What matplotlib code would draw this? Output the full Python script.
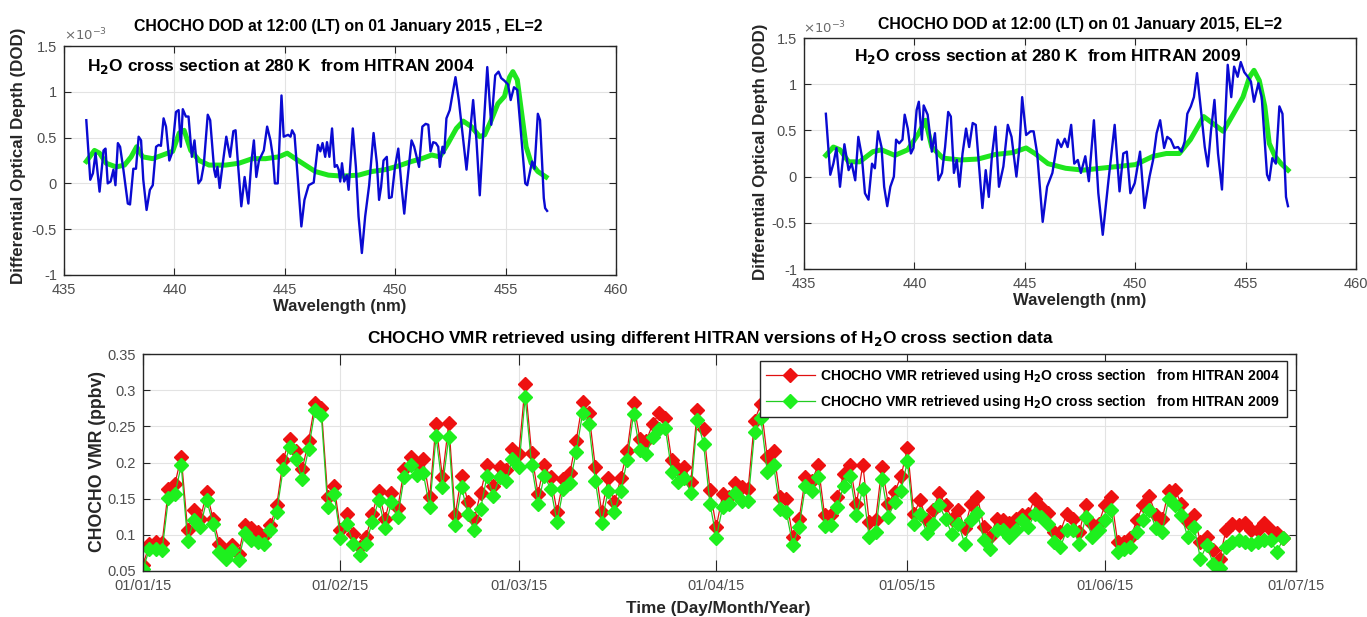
import matplotlib
matplotlib.use("Agg")
import matplotlib.pyplot as plt
import matplotlib.dates as mdates
import matplotlib.ticker as mticker
import numpy as np
import pandas as pd

plt.rcParams['font.family'] = ['Liberation Sans', 'DejaVu Sans']
plt.rcParams['axes.unicode_minus'] = False

# ---------------- Top-left panel (HITRAN 2004), DOD in units of 1e-3 ----------------
wl_blue_2004 = [436.01, 436.19, 436.31, 436.43, 436.61, 436.79, 436.88, 436.98, 437.11, 437.24,
                437.33, 437.44, 437.54, 437.69, 437.89, 437.99, 438.14, 438.26, 438.38, 438.49,
                438.59, 438.74, 438.89, 439.02, 439.17, 439.29, 439.39, 439.51, 439.62, 439.77,
                439.89, 440.07, 440.19, 440.29, 440.38, 440.52, 440.64, 440.79, 440.91, 441.09,
                441.21, 441.33, 441.51, 441.62, 441.80, 441.87, 441.95, 442.05, 442.17, 442.35,
                442.52, 442.67, 442.77, 442.89, 443.03, 443.18, 443.35, 443.48, 443.60, 443.71,
                443.83, 444.05, 444.20, 444.35, 444.46, 444.55, 444.68, 444.85, 444.95, 445.15,
                445.26, 445.33, 445.44, 445.59, 445.75, 445.89, 446.08, 446.31, 446.50, 446.61,
                446.71, 446.83, 446.91, 447.02, 447.14, 447.26, 447.36, 447.44, 447.51, 447.59,
                447.69, 447.81, 447.89, 448.08, 448.22, 448.34, 448.49, 448.64, 448.82, 449.02,
                449.17, 449.27, 449.36, 449.47, 449.62, 449.72, 449.84, 449.99, 450.14, 450.29,
                450.41, 450.52, 450.74, 450.86, 451.08, 451.23, 451.38, 451.50, 451.60, 451.72,
                451.84, 451.95, 452.02, 452.14, 452.22, 452.32, 452.47, 452.58, 452.73, 452.88,
                453.03, 453.23, 453.53, 453.68, 453.83, 453.98, 454.17, 454.35, 454.53, 454.68,
                454.80, 454.95, 455.11, 455.23, 455.38, 455.53, 455.89, 455.98, 456.20, 456.31,
                456.46, 456.56, 456.73, 456.79, 456.88]
dod_blue_2004 = [0.69, 0.04, 0.11, 0.33, -0.09, 0.36, 0.38, 0.00, 0.02, 0.15,
                 -0.02, 0.44, 0.40, 0.15, -0.22, -0.23, 0.16, 0.16, 0.51, 0.47,
                 0.04, -0.29, -0.07, -0.02, 0.40, 0.42, 0.41, 0.71, 0.62, 0.25,
                 0.33, 0.78, 0.80, 0.40, 0.81, 0.73, 0.73, 0.29, 0.47, 0.00,
                 0.04, 0.20, 0.75, 0.69, 0.15, 0.07, 0.18, -0.05, 0.18, 0.51,
                 0.29, 0.57, 0.58, 0.18, -0.25, 0.07, -0.22, 0.22, 0.47, 0.07,
                 0.25, 0.36, 0.62, 0.47, 0.29, 0.00, 0.00, 0.96, 0.51, 0.53,
                 0.51, 0.58, 0.53, 0.04, -0.47, -0.18, -0.02, 0.01, 0.42, 0.35,
                 0.44, 0.29, 0.45, 0.29, 0.60, 0.18, 0.20, 0.15, 0.02, 0.22,
                 0.02, 0.09, -0.07, 0.60, 0.18, -0.36, -0.76, -0.36, -0.02, 0.55,
                 0.22, -0.18, -0.04, 0.25, 0.29, -0.16, -0.15, 0.18, 0.38, -0.04,
                 -0.33, -0.04, 0.47, 0.40, 0.18, 0.62, 0.65, 0.64, 0.35, 0.45,
                 0.44, 0.40, 0.18, 0.40, 0.33, 0.71, 0.80, 0.95, 1.16, 0.91,
                 0.58, 0.15, 0.91, 0.47, -0.13, 0.51, 1.27, 0.64, 1.18, 1.22,
                 1.15, 1.12, 1.08, 0.91, 1.05, 1.02, 0.00, -0.02, 0.24, 0.16,
                 0.76, 0.69, -0.16, -0.27, -0.30]
wl_green_2004 = [436.01, 436.38, 436.61, 436.91, 437.36, 437.74, 438.04, 438.29, 438.56, 439.02,
                 439.47, 439.92, 440.22, 440.44, 440.74, 441.12, 441.57, 442.32, 442.92, 443.53,
                 444.13, 444.73, 445.11, 445.48, 445.93, 446.38, 446.98, 447.59, 448.34, 448.94,
                 449.54, 450.14, 450.74, 451.20, 451.65, 452.02, 452.40, 452.77, 453.08, 453.45,
                 453.83, 454.05, 454.35, 454.65, 454.95, 455.18, 455.33, 455.53, 455.71, 455.93,
                 456.16, 456.46, 456.83]
dod_green_2004 = [0.24, 0.36, 0.33, 0.22, 0.18, 0.20, 0.29, 0.40, 0.29, 0.27,
                  0.31, 0.35, 0.55, 0.58, 0.36, 0.25, 0.20, 0.20, 0.22, 0.27,
                  0.27, 0.29, 0.33, 0.27, 0.20, 0.13, 0.09, 0.08, 0.09, 0.13,
                  0.15, 0.19, 0.24, 0.27, 0.31, 0.29, 0.44, 0.60, 0.68, 0.62,
                  0.51, 0.53, 0.69, 0.87, 0.95, 1.16, 1.22, 1.13, 0.80, 0.40,
                  0.22, 0.13, 0.07]

# ---------------- Top-right panel (HITRAN 2009) ----------------
wl_blue_2009 = [435.99, 436.19, 436.33, 436.47, 436.63, 436.83, 437.02, 437.16, 437.32, 437.46,
                437.62, 437.76, 437.92, 438.08, 438.21, 438.35, 438.51, 438.63, 438.77, 438.91,
                439.07, 439.17, 439.31, 439.46, 439.56, 439.70, 439.84, 439.96, 440.10, 440.20,
                440.34, 440.42, 440.60, 440.79, 440.93, 441.09, 441.25, 441.39, 441.53, 441.65,
                441.79, 441.92, 442.04, 442.18, 442.34, 442.48, 442.64, 442.78, 443.08, 443.23,
                443.37, 443.51, 443.67, 443.83, 444.03, 444.23, 444.40, 444.62, 444.76, 444.88,
                445.06, 445.26, 445.40, 445.56, 445.81, 446.01, 446.25, 446.49, 446.65, 446.81,
                446.94, 447.10, 447.24, 447.40, 447.54, 447.74, 447.90, 448.13, 448.33, 448.53,
                448.79, 449.07, 449.29, 449.46, 449.62, 449.78, 449.98, 450.22, 450.42, 450.65,
                450.81, 450.97, 451.13, 451.31, 451.45, 451.61, 451.77, 451.94, 452.10, 452.24,
                452.36, 452.52, 452.66, 452.80, 453.00, 453.15, 453.29, 453.43, 453.59, 453.75,
                453.93, 454.19, 454.35, 454.48, 454.64, 454.78, 454.94, 455.10, 455.24, 455.38,
                455.58, 455.73, 455.97, 456.07, 456.21, 456.37, 456.53, 456.67, 456.83, 456.92]
dod_blue_2009 = [0.68, 0.02, 0.14, 0.31, -0.11, 0.35, 0.07, 0.14, -0.04, 0.43,
                 0.22, -0.18, -0.25, 0.14, 0.09, 0.49, 0.32, -0.11, -0.32, -0.11,
                 0.00, 0.40, 0.36, 0.40, 0.67, 0.52, 0.25, 0.31, 0.72, 0.81,
                 0.40, 0.77, 0.67, 0.27, 0.47, -0.04, 0.04, 0.32, 0.70, 0.65,
                 0.04, 0.18, -0.11, 0.25, 0.52, 0.32, 0.58, 0.56, -0.34, 0.07,
                 -0.22, 0.22, 0.54, -0.11, 0.11, 0.56, 0.43, 0.00, 0.32, 0.86,
                 0.45, 0.49, 0.49, 0.25, -0.49, -0.11, 0.04, 0.40, 0.32, 0.41,
                 0.32, 0.56, 0.14, 0.18, 0.04, 0.22, -0.05, 0.61, -0.18, -0.63,
                 -0.04, 0.56, -0.16, 0.25, 0.27, -0.18, -0.07, 0.27, -0.34, 0.00,
                 0.18, 0.47, 0.61, 0.31, 0.43, 0.40, 0.31, 0.32, 0.27, 0.38,
                 0.68, 0.76, 0.86, 1.12, 0.67, 0.32, 0.11, 0.49, 0.83, 0.25,
                 -0.14, 1.21, 0.86, 1.19, 1.08, 1.24, 1.13, 1.08, 1.03, 0.81,
                 1.01, 0.86, 0.02, -0.04, 0.20, 0.14, 0.76, 0.68, -0.22, -0.32]
wl_green_2009 = [435.99, 436.33, 436.63, 437.02, 437.52, 438.12, 438.51, 439.11, 439.70, 440.20,
                 440.50, 440.79, 441.29, 442.08, 442.88, 443.67, 444.46, 445.06, 445.46, 446.05,
                 446.85, 447.64, 448.43, 449.23, 450.02, 450.81, 451.41, 452.00, 452.50, 453.10,
                 453.49, 453.99, 454.38, 454.88, 455.18, 455.38, 455.62, 455.87, 456.07, 456.33,
                 456.61, 456.92]
dod_green_2009 = [0.23, 0.32, 0.29, 0.16, 0.16, 0.27, 0.29, 0.23, 0.29, 0.47,
                  0.61, 0.32, 0.20, 0.18, 0.19, 0.24, 0.26, 0.31, 0.25, 0.14,
                  0.09, 0.07, 0.09, 0.11, 0.13, 0.22, 0.25, 0.25, 0.40, 0.65,
                  0.58, 0.49, 0.65, 0.86, 1.08, 1.15, 1.04, 0.76, 0.36, 0.22,
                  0.14, 0.07]

# ---------------- Bottom panel: daily CHOCHO VMR (ppbv) ----------------
start_date = "2015-01-01"
vmr_2004 = [0.058, 0.087, 0.090, 0.089, 0.164, 0.170, 0.208, 0.107, 0.134, 0.122,
            0.159, 0.122, 0.088, 0.076, 0.086, 0.074, 0.113, 0.109, 0.104, 0.099,
            0.113, 0.141, 0.203, 0.233, 0.216, 0.191, 0.230, 0.282, 0.275, 0.152,
            0.168, 0.106, 0.129, 0.101, 0.083, 0.097, 0.129, 0.160, 0.122, 0.158,
            0.137, 0.191, 0.207, 0.198, 0.205, 0.152, 0.253, 0.180, 0.254, 0.127,
            0.182, 0.145, 0.122, 0.158, 0.196, 0.168, 0.194, 0.189, 0.219, 0.212,
            0.308, 0.213, 0.157, 0.197, 0.180, 0.132, 0.177, 0.185, 0.230, 0.283,
            0.269, 0.194, 0.132, 0.178, 0.145, 0.178, 0.216, 0.282, 0.233, 0.230,
            0.253, 0.268, 0.262, 0.203, 0.191, 0.194, 0.173, 0.272, 0.246, 0.162,
            0.111, 0.156, 0.152, 0.171, 0.166, 0.164, 0.258, 0.281, 0.207, 0.216,
            0.152, 0.149, 0.097, 0.122, 0.180, 0.175, 0.196, 0.127, 0.127, 0.152,
            0.184, 0.196, 0.143, 0.197, 0.118, 0.120, 0.194, 0.143, 0.159, 0.181,
            0.220, 0.129, 0.148, 0.120, 0.134, 0.158, 0.141, 0.122, 0.135, 0.109,
            0.143, 0.152, 0.111, 0.097, 0.122, 0.120, 0.116, 0.122, 0.127, 0.129,
            0.150, 0.138, 0.130, 0.104, 0.104, 0.129, 0.122, 0.104, 0.141, 0.115,
            0.115, 0.141, 0.152, 0.090, 0.090, 0.095, 0.120, 0.141, 0.153, 0.127,
            0.122, 0.161, 0.162, 0.143, 0.118, 0.127, 0.090, 0.097, 0.079, 0.067,
            0.106, 0.115, 0.113, 0.116, 0.106, 0.106, 0.116, 0.106, 0.102, 0.095]
vmr_2009 = [0.053, 0.080, 0.080, 0.079, 0.151, 0.156, 0.196, 0.092, 0.120, 0.111,
            0.148, 0.115, 0.076, 0.067, 0.079, 0.065, 0.103, 0.093, 0.090, 0.087,
            0.106, 0.132, 0.191, 0.221, 0.205, 0.177, 0.219, 0.272, 0.265, 0.138,
            0.157, 0.096, 0.115, 0.088, 0.072, 0.088, 0.118, 0.148, 0.110, 0.145,
            0.125, 0.180, 0.196, 0.183, 0.185, 0.138, 0.236, 0.166, 0.235, 0.113,
            0.166, 0.129, 0.106, 0.136, 0.181, 0.154, 0.180, 0.174, 0.205, 0.194,
            0.290, 0.197, 0.143, 0.181, 0.164, 0.118, 0.164, 0.171, 0.214, 0.268,
            0.253, 0.175, 0.116, 0.160, 0.131, 0.160, 0.203, 0.267, 0.217, 0.212,
            0.235, 0.246, 0.248, 0.187, 0.173, 0.179, 0.158, 0.259, 0.226, 0.143,
            0.096, 0.139, 0.143, 0.158, 0.147, 0.147, 0.242, 0.262, 0.187, 0.196,
            0.136, 0.131, 0.086, 0.111, 0.168, 0.161, 0.180, 0.112, 0.113, 0.138,
            0.168, 0.182, 0.127, 0.164, 0.097, 0.104, 0.177, 0.125, 0.145, 0.161,
            0.202, 0.115, 0.129, 0.103, 0.115, 0.141, 0.122, 0.101, 0.115, 0.088,
            0.120, 0.130, 0.093, 0.080, 0.106, 0.106, 0.097, 0.106, 0.120, 0.111,
            0.129, 0.125, 0.115, 0.090, 0.083, 0.106, 0.106, 0.088, 0.125, 0.097,
            0.106, 0.121, 0.134, 0.076, 0.081, 0.083, 0.104, 0.120, 0.134, 0.109,
            0.104, 0.150, 0.141, 0.127, 0.097, 0.111, 0.067, 0.086, 0.060, 0.054,
            0.083, 0.090, 0.093, 0.090, 0.088, 0.090, 0.093, 0.093, 0.076, 0.095]

dates = pd.date_range(start_date, periods=len(vmr_2004), freq="D")

W, H = 1367, 617
fig = plt.figure(figsize=(W / 100, H / 100), dpi=100)

AX_EDGE = '#262626'
TICK_COL = '#4d4d4d'
GRID_COL = '#e3e3e3'


def style_axes(ax):
    for s in ax.spines.values():
        s.set_color(AX_EDGE)
        s.set_linewidth(1.0)
    ax.tick_params(direction='in', length=5, width=0.8, colors=AX_EDGE,
                   labelcolor=TICK_COL, labelsize=10.5,
                   top=True, right=True)
    ax.tick_params(axis='x', pad=6)
    ax.tick_params(axis='y', pad=5)
    ax.grid(True, color=GRID_COL, linewidth=0.8)
    ax.set_axisbelow(True)


def px_rect(x0, y0, x1, y1):
    return [x0 / W, 1 - y1 / H, (x1 - x0) / W, (y1 - y0) / H]


def dod_panel(rect, wl_b, dod_b, wl_g, dod_g, title, title_xy, note, note_xy,
              exp_xy, ylab_xy, xlab_xy):
    ax = fig.add_axes(px_rect(*rect))
    ax.plot(wl_b, dod_b, color='#0a0ad2', linewidth=1.7, zorder=3)
    ax.plot(wl_g, dod_g, color='#1ee61e', linewidth=3.6, zorder=2)
    ax.set_xlim(435, 460)
    ax.set_ylim(-1, 1.5)
    ax.set_xticks([435, 440, 445, 450, 455, 460])
    ax.set_yticks([-1, -0.5, 0, 0.5, 1, 1.5])
    ax.yaxis.set_major_formatter(mticker.FuncFormatter(lambda v, p: f'{v:g}'))
    style_axes(ax)
    fig.text(title_xy[0] / W, 1 - title_xy[1] / H, title, ha='center', va='center',
             fontsize=11.4, fontweight='bold', color='black')
    fig.text(note_xy[0] / W, 1 - note_xy[1] / H, note, ha='center', va='center',
             fontsize=12.5, fontweight='bold', color='black')
    fig.text(exp_xy[0] / W, 1 - exp_xy[1] / H, r'$\times10^{-3}$', ha='left', va='center',
             fontsize=9.5, color='#6a6a6a')
    fig.text(ylab_xy[0] / W, 1 - ylab_xy[1] / H, 'Differential Optical Depth (DOD)',
             rotation=90, ha='center', va='center', fontsize=12.2, fontweight='bold',
             color='#262626')
    fig.text(xlab_xy[0] / W, 1 - xlab_xy[1] / H, 'Wavelength (nm)', ha='center',
             va='center', fontsize=12, fontweight='bold', color='#262626')
    return ax


dod_panel((64, 46, 616, 275), wl_blue_2004, dod_blue_2004, wl_green_2004, dod_green_2004,
          'CHOCHO DOD at 12:00 (LT) on 01 January 2015 , EL=2', (338, 27),
          r'H$_\mathbf{2}$O cross section at 280 K  from HITRAN 2004', (281, 67),
          (64, 35), (19, 156), (340, 307))
dod_panel((804, 38, 1356, 269), wl_blue_2009, dod_blue_2009, wl_green_2009, dod_green_2009,
          'CHOCHO DOD at 12:00 (LT) on 01 January 2015, EL=2', (1080, 24),
          r'H$_\mathbf{2}$O cross section at 280 K  from HITRAN 2009', (1048, 56),
          (803, 28), (761, 152), (1080, 301))

# ---------------- Bottom panel ----------------
axb = fig.add_axes(px_rect(143, 354, 1296, 571))
l1, = axb.plot(dates, vmr_2004, color='#e01010', linewidth=0.9, marker='D',
               markersize=7, markerfacecolor='#ee1111', markeredgecolor='#ee1111',
               label=r'CHOCHO VMR retrieved using H$_\mathbf{2}$O cross section   from HITRAN 2004')
l2, = axb.plot(dates, vmr_2009, color='#22cc22', linewidth=0.9, marker='D',
               markersize=7, markerfacecolor='#1ef01e', markeredgecolor='#1ef01e',
               label=r'CHOCHO VMR retrieved using H$_\mathbf{2}$O cross section   from HITRAN 2009')
axb.set_xlim(pd.Timestamp('2015-01-01'), pd.Timestamp('2015-07-01'))
axb.set_ylim(0.05, 0.35)
axb.xaxis.set_major_locator(mdates.MonthLocator())
axb.xaxis.set_major_formatter(mdates.DateFormatter('%d/%m/%y'))
axb.set_yticks([0.05, 0.1, 0.15, 0.2, 0.25, 0.3, 0.35])
axb.yaxis.set_major_formatter(mticker.FuncFormatter(lambda v, p: f'{v:g}'))
style_axes(axb)
axb.tick_params(axis='x', length=8)
leg = axb.legend(loc='upper right', bbox_to_anchor=(0.992, 0.968), borderaxespad=0,
                 fancybox=False, framealpha=1, edgecolor='#262626',
                 prop={'weight': 'bold', 'size': 10}, handlelength=3.5,
                 borderpad=0.45, labelspacing=0.55, handletextpad=0.4)
leg.get_frame().set_linewidth(1.0)

fig.text(710 / W, 1 - 338 / H,
         r'CHOCHO VMR retrieved using different HITRAN versions of H$_\mathbf{2}$O cross section data',
         ha='center', va='center', fontsize=12.4, fontweight='bold', color='black')
fig.text(97 / W, 1 - 462 / H, 'CHOCHO VMR (ppbv)', rotation=90, ha='center', va='center',
         fontsize=12.7, fontweight='bold', color='#262626')
fig.text(718 / W, 1 - 609 / H, 'Time (Day/Month/Year)', ha='center', va='center',
         fontsize=12.3, fontweight='bold', color='#262626')

fig.savefig('out.png', dpi=100)
